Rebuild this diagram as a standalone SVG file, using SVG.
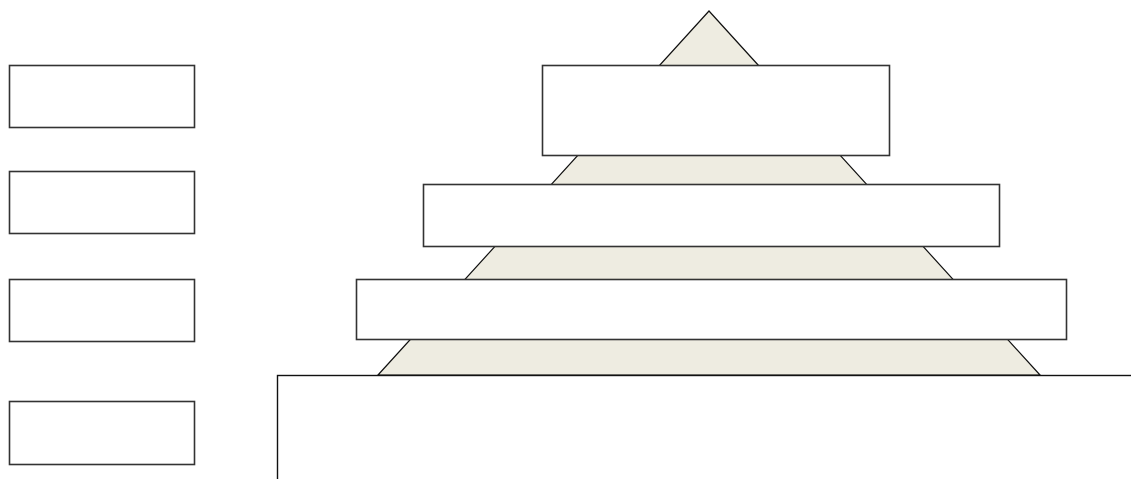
<svg xmlns="http://www.w3.org/2000/svg" width="1131" height="479" viewBox="0 0 1131 479">
  <style>
    .box { fill: #ffffff; stroke: #333333; stroke-width: 1.6; }
    .tri { fill: #eeece1; stroke: #111111; stroke-width: 1.2; }
    .base { fill: #ffffff; stroke: #111111; stroke-width: 1.4; }
  </style>
  <rect width="1131" height="479" fill="#ffffff"/>
  <g id="pyramid">
    <polygon class="tri" points="709,11 1040,375 378,375"/>
  </g>
  <g id="base">
    <rect class="base" x="277.5" y="375.5" width="900" height="200"/>
  </g>
  <g id="level1">
    <rect class="box" x="542.5" y="65.5" width="347" height="90"/>
  </g>
  <g id="level2">
    <rect class="box" x="423.5" y="184.5" width="576" height="62"/>
  </g>
  <g id="level3">
    <rect class="box" x="356.5" y="279.5" width="710" height="60"/>
  </g>
  <g id="label1">
    <rect class="box" x="9.5" y="65.5" width="185" height="62"/>
  </g>
  <g id="label2">
    <rect class="box" x="9.5" y="171.5" width="185" height="62"/>
  </g>
  <g id="label3">
    <rect class="box" x="9.5" y="279.5" width="185" height="62"/>
  </g>
  <g id="label4">
    <rect class="box" x="9.5" y="401.5" width="185" height="63"/>
  </g>
  <g id="connectors"></g>
</svg>
